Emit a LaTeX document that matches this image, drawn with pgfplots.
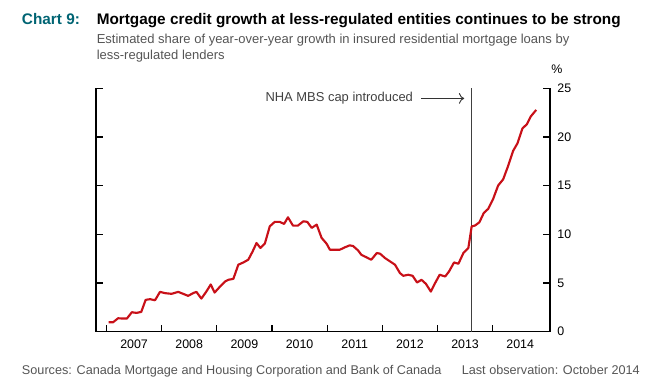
\documentclass[border=0pt]{standalone}
\usepackage{fontspec}
\setmainfont{Liberation Sans}
\usepackage{pgfplots}
\pgfplotsset{compat=1.18}
\usetikzlibrary{arrows.meta}
\definecolor{teal9}{RGB}{0,100,115}
\definecolor{lred}{RGB}{200,16,24}
\definecolor{subg}{RGB}{85,85,85}
\begin{document}
\begin{tikzpicture}[x=0.75pt,y=0.75pt]
\useasboundingbox (0,0) rectangle (666,391);
% titles
\node[anchor=base west,inner sep=0,font=\fontsize{11.5}{13}\selectfont\bfseries,text=teal9] at (21.7,366) {Chart 9:};
\node[anchor=base west,inner sep=0,font=\fontsize{11.5}{13}\selectfont\bfseries] at (96.5,366) {Mortgage credit growth at less-regulated entities continues to be strong};
\node[anchor=base west,inner sep=0,font=\fontsize{9.75}{11}\selectfont,text=subg] at (96.5,347) {Estimated share of year-over-year growth in insured residential mortgage loans by};
\node[anchor=base west,inner sep=0,font=\fontsize{9.75}{11}\selectfont,text=subg] at (96.5,331.7) {less-regulated lenders};
\node[anchor=base west,inner sep=0,font=\fontsize{9.3}{10}\selectfont] at (551,317) {\%};
\node[anchor=base west,inner sep=0,font=\fontsize{9.5}{10}\selectfont,text=subg] at (21.7,16) {Sources: Canada Mortgage and Housing Corporation and Bank of Canada};
\node[anchor=base east,inner sep=0,font=\fontsize{9.5}{10}\selectfont,text=subg] at (640,16) {Last observation: October 2014};
% left axis overlay
\begin{axis}[at={(72pt,44.475pt)},anchor=origin,scale only axis,
  width=340.5pt,height=182.55pt,
  xmin=2006.81,xmax=2015.04,ymin=0,ymax=25,
  axis y line*=left, axis x line=none,
  axis line style={-,line width=0.9pt},
  ytick={0,5,...,25},yticklabels={},
  tick align=inside, major tick length=5pt,
  tick style={line width=0.9pt,black}]
\end{axis}
\begin{axis}[at={(72pt,44.475pt)},anchor=origin,scale only axis,
  width=340.5pt,height=182.55pt,
  xmin=2006.81,xmax=2015.04,ymin=0,ymax=25,
  axis x line*=bottom, axis y line*=right,
  axis line style={-,line width=0.9pt},
  tick align=inside, major tick length=5pt,
  tick style={line width=0.9pt,black},
  ytick={0,5,...,25},
  xtick={2007,...,2014},xticklabels={},
  extra x ticks={2007.5,2008.5,2009.5,2010.5,2011.5,2012.5,2013.5,2014.5},
  extra x tick labels={2007,2008,2009,2010,2011,2012,2013,2014},
  extra x tick style={major tick length=0pt},
  /pgf/number format/assume math mode=true,
  tick label style={font=\fontsize{9.3}{10}\selectfont},
  yticklabel style={xshift=2pt},
  xticklabel style={yshift=-2.7pt},
  clip=false]
\draw[line width=0.9pt,black!75] (axis cs:2013.62,0) -- (axis cs:2013.62,25);
\node[anchor=east,inner sep=0,font=\fontsize{9.7}{11}\selectfont,text=black!75] at (axis cs:2012.56,23.96) {NHA MBS cap introduced};
\draw[line width=0.7pt,black!80,-{To[length=4pt,width=8pt]}] (axis cs:2012.71,23.96) -- (axis cs:2013.485,23.96);
\addplot[lred,line width=1.6pt,line join=round] table {
2007.04 0.97
2007.12 0.97
2007.21 1.38
2007.30 1.35
2007.37 1.35
2007.46 2.00
2007.54 1.93
2007.63 2.03
2007.71 3.27
2007.79 3.34
2007.88 3.23
2007.97 4.09
2008.06 3.96
2008.18 3.89
2008.30 4.09
2008.39 3.89
2008.48 3.68
2008.57 3.96
2008.63 4.09
2008.72 3.40
2008.81 4.12
2008.89 4.85
2008.96 4.02
2009.05 4.58
2009.15 5.16
2009.21 5.33
2009.30 5.43
2009.39 6.88
2009.48 7.11
2009.57 7.39
2009.65 8.25
2009.72 9.11
2009.79 8.60
2009.87 9.04
2009.96 10.82
2010.05 11.28
2010.14 11.28
2010.22 11.07
2010.29 11.75
2010.38 10.90
2010.47 10.90
2010.57 11.34
2010.64 11.28
2010.72 10.66
2010.81 11.00
2010.90 9.63
2010.99 9.04
2011.05 8.42
2011.14 8.42
2011.23 8.42
2011.32 8.66
2011.41 8.87
2011.47 8.80
2011.56 8.35
2011.62 7.90
2011.71 7.65
2011.80 7.39
2011.90 8.08
2011.96 8.01
2012.05 7.56
2012.14 7.22
2012.23 6.88
2012.32 6.02
2012.38 5.74
2012.47 5.85
2012.55 5.74
2012.63 5.05
2012.71 5.33
2012.79 4.92
2012.88 4.12
2012.95 4.92
2013.04 5.85
2013.14 5.67
2013.21 6.19
2013.30 7.11
2013.38 6.98
2013.47 8.08
2013.56 8.60
2013.62 10.82
2013.68 10.90
2013.76 11.24
2013.84 12.20
2013.92 12.62
2014.01 13.65
2014.10 15.02
2014.19 15.64
2014.28 17.01
2014.37 18.56
2014.45 19.35
2014.54 20.87
2014.62 21.31
2014.69 22.10
2014.79 22.78
};
\end{axis}
\end{tikzpicture}
\end{document}
